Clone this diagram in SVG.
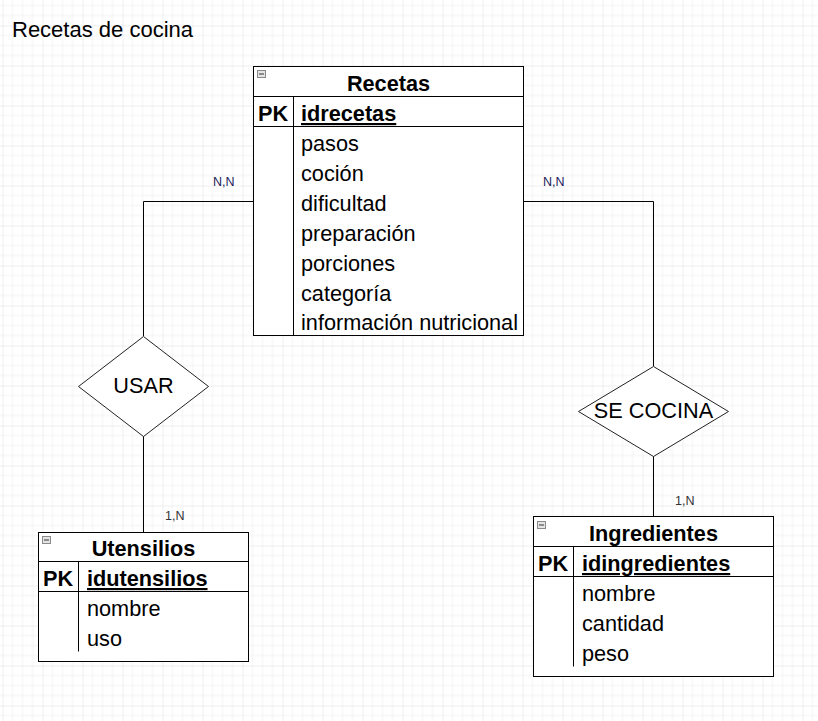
<svg xmlns="http://www.w3.org/2000/svg" width="818" height="721" viewBox="0 0 818 721">
<defs>
<pattern id="grid" patternUnits="userSpaceOnUse" x="2.5" y="25.5" width="40" height="40">
<path d="M10 0V40M20 0V40M30 0V40M0 10H40M0 20H40M0 30H40" stroke="#f2f2f2" stroke-width="1" fill="none"/>
<path d="M0 0V40M0 0H40" stroke="#e0e0e0" stroke-width="1" fill="none"/>
</pattern>
<g id="minus">
<rect x="0.5" y="0.5" width="8" height="7" fill="#e4e4e4" stroke="#8a8a8a"/>
<line x1="2" y1="4" x2="7" y2="4" stroke="#333" stroke-width="1"/>
</g>
</defs>
<style>
.t{font-family:"Liberation Sans",Arial,sans-serif;font-size:21.7px;fill:#000}
.b{font-weight:bold}
.c{text-anchor:middle}
.u{text-decoration:underline}
.s{font-family:"Liberation Sans",Arial,sans-serif;font-size:12.5px}
.box{fill:#fff;stroke:#000;stroke-width:1}
.ln{stroke:#000;stroke-width:1;fill:none}
.dia{fill:#fff;stroke:#222;stroke-width:1}
</style>
<rect width="818" height="721" fill="#fff"/>
<rect width="818" height="721" fill="url(#grid)"/>
<text id="title" class="t" x="12" y="37" style="font-size:22px">Recetas de cocina</text>

<g id="connectors">
<polyline class="ln" points="253.5,201.5 143.5,201.5 143.5,336"/>
<line class="ln" x1="143.5" y1="436" x2="143.5" y2="532"/>
<polyline class="ln" points="523.5,201.5 653.5,201.5 653.5,366"/>
<line class="ln" x1="653.5" y1="456" x2="653.5" y2="516"/>
<text class="s" x="213" y="186" fill="#1c1c5c">N,N</text>
<text class="s" x="543" y="186" fill="#1c1c5c">N,N</text>
<text class="s" x="165" y="520" fill="#333">1,N</text>
<text class="s" x="675" y="505" fill="#333">1,N</text>
</g>

<g id="usar">
<polygon class="dia" points="143.5,336.5 208.5,386.5 143.5,436.5 78.5,386.5"/>
<text class="t c" x="143.5" y="393">USAR</text>
</g>

<g id="secocina">
<polygon class="dia" points="653.5,366.5 728.5,411.5 653.5,456.5 578.5,411.5"/>
<text class="t c" x="653.5" y="418">SE COCINA</text>
</g>

<g id="recetas">
<rect class="box" x="253.5" y="66.5" width="270" height="269"/>
<line class="ln" x1="253.5" y1="96.5" x2="523.5" y2="96.5"/>
<line class="ln" x1="253.5" y1="126.5" x2="523.5" y2="126.5"/>
<line class="ln" x1="293.5" y1="96.5" x2="293.5" y2="335.5"/>
<use href="#minus" x="257" y="70"/>
<text class="t b c" x="388.5" y="91">Recetas</text>
<text class="t b" x="258" y="121">PK</text>
<text class="t b u" x="301" y="121">idrecetas</text>
<text class="t" x="301" y="151">pasos</text>
<text class="t" x="301" y="181">coción</text>
<text class="t" x="301" y="211">dificultad</text>
<text class="t" x="301" y="241">preparación</text>
<text class="t" x="301" y="271">porciones</text>
<text class="t" x="301" y="301">categoría</text>
<text class="t" x="301" y="330">información nutricional</text>
</g>

<g id="utensilios">
<rect class="box" x="38.5" y="532.5" width="210" height="129"/>
<line class="ln" x1="38.5" y1="561.5" x2="248.5" y2="561.5"/>
<line class="ln" x1="38.5" y1="591.5" x2="248.5" y2="591.5"/>
<line class="ln" x1="78.5" y1="561.5" x2="78.5" y2="651.5"/>
<use href="#minus" x="42" y="536"/>
<text class="t b c" x="143.5" y="556">Utensilios</text>
<text class="t b" x="43" y="586">PK</text>
<text class="t b u" x="87" y="586">idutensilios</text>
<text class="t" x="87" y="616">nombre</text>
<text class="t" x="87" y="646">uso</text>
</g>

<g id="ingredientes">
<rect class="box" x="533.5" y="516.5" width="240" height="160"/>
<line class="ln" x1="533.5" y1="546.5" x2="773.5" y2="546.5"/>
<line class="ln" x1="533.5" y1="576.5" x2="773.5" y2="576.5"/>
<line class="ln" x1="573.5" y1="546.5" x2="573.5" y2="666.5"/>
<use href="#minus" x="537" y="521"/>
<text class="t b c" x="653.5" y="541">Ingredientes</text>
<text class="t b" x="538" y="571">PK</text>
<text class="t b u" x="582" y="571">idingredientes</text>
<text class="t" x="582" y="601">nombre</text>
<text class="t" x="582" y="631">cantidad</text>
<text class="t" x="582" y="661">peso</text>
</g>
</svg>
